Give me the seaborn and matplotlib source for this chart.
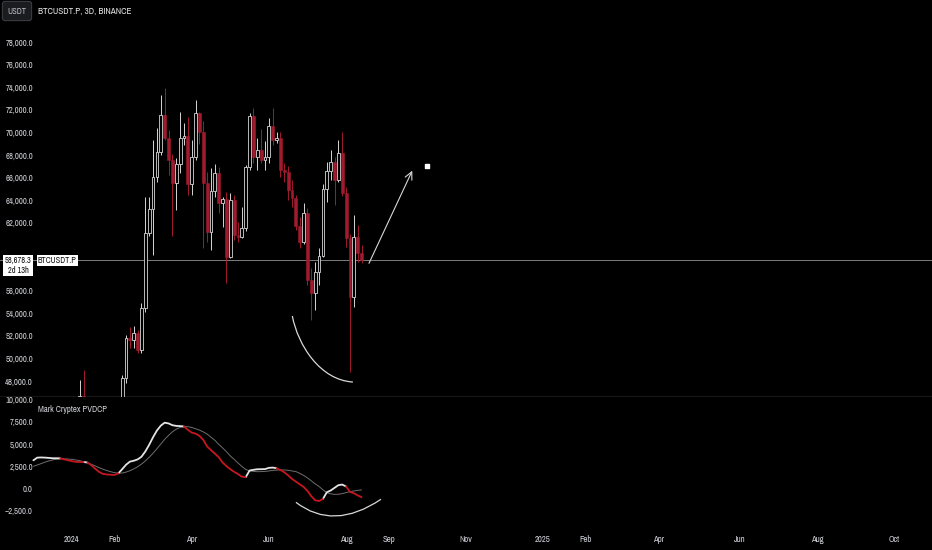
import numpy as np
import pandas as pd
import matplotlib
matplotlib.use("Agg")
import matplotlib.pyplot as plt
import matplotlib.transforms as mtransforms
import matplotlib.dates as mdates
from matplotlib.path import Path
from matplotlib.patches import PathPatch
from matplotlib import font_manager
import seaborn as sns

# ---- data --------------------------------------------------------------
symbol = "BTCUSDT.P"
header = "BTCUSDT.P, 3D, BINANCE"
indicator_name = "Mark Cryptex PVDCP"
last_price = 58678.3
countdown = "2d 13h"

# 3D candles, first bar opens 2024-01-07
candle_start = "2024-01-07"
opens = [43900, 46650, 42850, 42500, 41300, 41550, 39900, 42100, 43300, 43000,
         42700, 45300, 48250, 51780, 51600, 52220, 50740, 54430, 61130, 63200,
         66080, 68300, 71540, 69500, 67600, 65500, 67200, 69500, 69700, 65400,
         67850, 71690, 70060, 65500, 61220, 64810, 66380, 63730, 64100, 59000,
         64020, 60920, 60770, 61520, 66970, 71480, 67850, 68440, 67600, 67850,
         70590, 69330, 69500, 66670, 66500, 64900, 64200, 61700, 60330, 62850,
         56950, 55770, 57680, 59100, 64990, 66580, 67400, 65790, 68150, 64610,
         60630, 55470, 60770, 59300]
highs = [48090, 48970, 43300, 43580, 42200, 41650, 42250, 43850, 43750, 43500,
         45600, 48530, 52070, 52800, 52900, 52500, 54870, 64300, 64250, 69330,
         70360, 73330, 73900, 70200, 68100, 67700, 71840, 70800, 71400, 69330,
         72870, 71840, 71000, 66500, 66820, 67200, 66900, 64310, 64760, 64610,
         64500, 62100, 63430, 67100, 71690, 72130, 69480, 70300, 69200, 71250,
         72130, 70060, 70000, 67260, 67000, 65800, 64500, 62500, 63730, 63300,
         58000, 58560, 59730, 65430, 67400, 68440, 67800, 69330, 70060, 65200,
         61000, 62690, 61810, 60000]
lows = [43200, 42500, 41700, 40600, 40300, 38550, 39500, 41800, 41900, 42250,
        42600, 45200, 47800, 50900, 50900, 50500, 50500, 54100, 60800, 59150,
        65640, 68000, 69300, 66200, 60800, 63130, 66390, 68880, 64470, 64470,
        67560, 69000, 59740, 60320, 59590, 64310, 62850, 61660, 56650, 58850,
        60470, 60330, 60650, 61300, 66700, 67260, 66670, 67300, 66670, 67260,
        68880, 69030, 66080, 65640, 64020, 63400, 61370, 59740, 60100, 56500,
        53400, 54280, 56500, 59000, 63800, 65800, 63570, 65600, 64400, 59900,
        48820, 54580, 58500, 58400]
closes = [46650, 42850, 42500, 41300, 41550, 39900, 42100, 43300, 43000, 42700,
          45300, 48250, 51780, 51600, 52220, 50740, 54430, 61130, 63200, 66080,
          68300, 71540, 69500, 67600, 65500, 67200, 69500, 69700, 65400, 67850,
          71690, 70060, 65500, 61220, 64810, 66380, 63730, 64100, 59000, 64020,
          60920, 60770, 61520, 66970, 71480, 67850, 68440, 67600, 67850, 70590,
          69330, 69500, 66670, 66500, 64900, 64200, 61700, 60330, 62850, 56950,
          55770, 57680, 59100, 64990, 66580, 67400, 65790, 68150, 64610, 60630,
          55470, 60770, 59300, 58678.3]

# PVDCP indicator, one value per 3D bar from 2023-12-02
ind_start = "2023-12-02"
pv_line = [3150, 3450, 3470, 3450, 3420, 3380, 3380, 3370, 3250, 3150,
           3050, 2980, 2950, 2960, 2900, 2600, 2200, 1850, 1620, 1560,
           1520, 1500, 1680, 2150, 2650, 3000, 3100, 3250, 3550, 4150,
           4900, 5750, 6500, 7050, 7380, 7300, 7100, 7020, 7000, 6950,
           6580, 6270, 6150, 5900, 5450, 4700, 4300, 3900, 3500, 2900,
           2500, 2150, 1850, 1600, 1300, 1250, 2000, 2080, 2140, 2150,
           2160, 2300, 2330, 2250, 2050, 1800, 1450, 1050, 750, 450,
           150, -300, -900, -1350, -1430, -1200, -450, -250, 50, 350,
           420, 200, -400, -550, -800, -1000]
signal_line = [2480, 2620, 2780, 2940, 3080, 3200, 3270, 3310, 3310, 3290,
               3250, 3190, 3110, 3000, 2860, 2700, 2520, 2330, 2150, 2000,
               1870, 1760, 1700, 1720, 1820, 1980, 2180, 2420, 2720, 3080,
               3500, 3950, 4450, 4980, 5500, 5950, 6350, 6650, 6850, 6940,
               6930, 6850, 6700, 6550, 6350, 6100, 5750, 5400, 4950, 4550,
               4120, 3650, 3250, 2850, 2450, 2120, 1960, 1900, 1870, 1880,
               1900, 1950, 2010, 2050, 2070, 2060, 2030, 1950, 1880, 1680,
               1450, 1170, 835, 500, 200, -170, -500, -620, -680, -670,
               -600, -480, -380, -300, -230, -190]

price_ticks = [48000, 50000, 52000, 54000, 56000, 58000, 60000, 62000, 64000,
               66000, 68000, 70000, 72000, 74000, 76000, 78000]
ind_ticks = [-2500, 0, 2500, 5000, 7500, 10000]
time_tick_dates = ["2024-01-01", "2024-02-03", "2024-04-03", "2024-06-02",
                   "2024-08-01", "2024-09-03", "2024-11-02", "2025-01-01",
                   "2025-02-03", "2025-04-01", "2025-06-03", "2025-08-02",
                   "2025-10-01"]
time_tick_labels = ["2024", "Feb", "Apr", "Jun", "Aug", "Sep", "Nov", "2025",
                    "Feb", "Apr", "Jun", "Aug", "Oct"]

# hand drawn annotations (date, value)
arc_main = [("2024-06-20 05:00", 53750), ("2024-06-24 14:00", 51180),
            ("2024-07-11 17:00", 48080), ("2024-08-06 07:00", 47910)]
arc_ind = [("2024-06-23 00:00", -1575), ("2024-07-22 05:00", -4826),
           ("2024-08-28 02:00", -1238)]
arrow_from = ("2024-08-18 19:00", 58416)
arrow_to = ("2024-09-21 10:00", 66611)
dot_point = ("2024-10-03 02:00", 67026)

# ---- style ----------------------------------------------------------------
sns.set_theme(style="dark", rc={"axes.facecolor": "black",
                                "figure.facecolor": "black",
                                "axes.grid": False})

# the screenshot text is narrow, use a condensed face when there is one
narrow, stretch = None, "normal"
for f in font_manager.fontManager.ttflist:
    if "Narrow" in f.name or "Condensed" in f.name:
        narrow = f.name
        break
if narrow is None:
    for f in font_manager.fontManager.ttflist:
        if str(f.stretch) in ("condensed", "semi-condensed"):
            narrow, stretch = f.name, f.stretch
            break
if narrow:
    plt.rcParams["font.family"] = [narrow, "DejaVu Sans"]
    plt.rcParams["font.stretch"] = stretch
    FS = 6.3
else:
    plt.rcParams["font.family"] = ["Liberation Sans", "DejaVu Sans"]
    FS = 5.5

TXT = "#d0d2d8"
UP = "#d6d6d6"
DOWN = "#a01b2e"
PV_UP = "#e4e4e4"
PV_DOWN = "#c8161f"

W, H = 932, 550
PT = 72 / 100  # points per pixel
fig = plt.figure(figsize=(W / 100, H / 100), dpi=100)
ax = fig.add_axes([0, (H - 397) / H, 1, 397 / H])
ax2 = fig.add_axes([0, (H - 527) / H, 1, 130 / H], sharex=ax)

candles = pd.DataFrame({"date": pd.date_range(candle_start, periods=len(opens), freq="3D"),
                        "open": opens, "high": highs, "low": lows, "close": closes})
candles["up"] = candles["close"] >= candles["open"]

# wicks
ax.vlines(candles["date"], candles["low"], candles["high"],
          colors=np.where(candles["up"], UP, DOWN), lw=0.7, zorder=2)
# bodies
up = candles[candles["up"]]
dn = candles[~candles["up"]]
ax.bar(up["date"], (up["close"] - up["open"]).clip(lower=150), bottom=up["open"],
       width=2.2, facecolor="black", edgecolor=UP, lw=0.6, zorder=3)
ax.bar(dn["date"], dn["open"] - dn["close"], bottom=dn["close"],
       width=2.2, facecolor=DOWN, edgecolor=DOWN, lw=0.4, zorder=3)

ax.axhline(last_price, color="#7d7d7d", lw=0.7, zorder=1)

# annotations on the price pane
to_num = lambda d: mdates.date2num(pd.Timestamp(d))
verts = [(to_num(d), v) for d, v in arc_main]
ax.add_patch(PathPatch(Path(verts, [Path.MOVETO, Path.CURVE4, Path.CURVE4, Path.CURVE4]),
                       fill=False, edgecolor="#d8d8d8", lw=0.9, zorder=4))
ax.annotate("", xy=(to_num(arrow_to[0]), arrow_to[1]),
            xytext=(to_num(arrow_from[0]), arrow_from[1]),
            arrowprops=dict(arrowstyle="->,head_length=0.45,head_width=0.22",
                            color="#d8d8d8", lw=0.8, shrinkA=0, shrinkB=0))
ax.scatter([to_num(dot_point[0])], [dot_point[1]], s=5, marker="s", color="white",
           zorder=5)

# price pane axis, labels sit inside the plot, right edge at 33 px;
# the tick hidden under the last price box gets no label
ax.set_ylim(46584, 81717)
ax.set_yticks(price_ticks)
ax.set_yticklabels(["" if abs(v - last_price) < 1500 else f"{v:,.1f}"
                    for v in price_ticks])
ax.tick_params(axis="y", pad=-33 * PT, length=0, labelsize=FS, labelcolor=TXT)
ax.tick_params(axis="x", bottom=False, labelbottom=False)
for s in ["top", "left", "right"]:
    ax.spines[s].set_visible(False)
ax.spines["bottom"].set_color("#bdbdbd")
ax.spines["bottom"].set_linewidth(0.9)
ax.set_xlabel("")
ax.set_ylabel("")

blend = mtransforms.blended_transform_factory(ax.transAxes, ax.transData)
ax.annotate(f"{last_price:,.1f}\n{countdown}", xy=(0, last_price), xycoords=blend,
            xytext=(18, 4), textcoords="offset pixels", ha="center", va="top",
            fontsize=FS - 0.3, color="#111111", linespacing=1.1, zorder=10,
            multialignment="center",
            bbox=dict(boxstyle="square,pad=0.15", fc="white", ec="none"))
ax.annotate(symbol, xy=(0, last_price), xycoords=blend, xytext=(38, 0),
            textcoords="offset pixels", ha="left", va="center", fontsize=FS - 0.3,
            color="#111111", zorder=10,
            bbox=dict(boxstyle="square,pad=0.15", fc="white", ec="none"))

# ---- indicator pane -------------------------------------------------------
ind = pd.DataFrame({"date": pd.date_range(ind_start, periods=len(pv_line), freq="3D"),
                    "pv": pv_line, "signal": signal_line})
above = (ind["pv"] >= ind["signal"]).to_numpy()
rows = []
run = 0
for i in range(len(ind) - 1):
    state = "up" if above[i + 1] else "down"
    if i > 0 and state != ("up" if above[i] else "down"):
        run += 1
    for j in (i, i + 1):
        rows.append({"date": ind["date"][j], "value": ind["pv"][j],
                     "state": state, "run": run})
pv_df = pd.DataFrame(rows)

sns.lineplot(data=ind, x="date", y="signal", color="#6e6e6e", lw=0.7, ax=ax2)
sns.lineplot(data=pv_df, x="date", y="value", hue="state", units="run",
             estimator=None, sort=False, palette={"up": PV_UP, "down": PV_DOWN},
             lw=1.3, legend=False, ax=ax2)

verts = [(to_num(d), v) for d, v in arc_ind]
ax2.add_patch(PathPatch(Path(verts, [Path.MOVETO, Path.CURVE3, Path.CURVE3]),
                        fill=False, edgecolor="#d8d8d8", lw=0.9, zorder=4))

ax2.set_ylim(-4354, 10271)
ax2.set_yticks(ind_ticks)
ax2.set_yticklabels([f"{v:,.1f}".replace("-", "\u2212") for v in ind_ticks])
ax2.tick_params(axis="y", pad=-33 * PT, length=0, labelsize=FS, labelcolor=TXT)
for lab in ax2.get_yticklabels():
    lab.set_clip_box(ax2.bbox)
    lab.set_clip_on(True)
ax2.set_xticks([mdates.date2num(pd.Timestamp(d)) for d in time_tick_dates])
ax2.set_xticklabels(time_tick_labels)
ax2.tick_params(axis="x", pad=6, length=0, labelsize=FS, labelcolor=TXT)
for s in ax2.spines.values():
    s.set_visible(False)
ax2.set_xlabel("")
ax2.set_ylabel("")
ax2.text(38 / W, 1 - 12 / 130, indicator_name, transform=ax2.transAxes,
         ha="left", va="center", fontsize=FS, color=TXT)

day0 = pd.Timestamp("2024-01-01")
ax.set_xlim(mdates.date2num(day0 - pd.Timedelta(days=55.95)),
            mdates.date2num(day0 + pd.Timedelta(days=668.3)))

# ---- header ---------------------------------------------------------------
fig.text(38 / W, 1 - 11 / H, header, ha="left", va="center", fontsize=FS + 0.3,
         color="#e6e6e6")
fig.text(17 / W, 1 - 11 / H, "USDT", ha="center", va="center", fontsize=FS - 0.2,
         color="#b9bcc4",
         bbox=dict(boxstyle="round,pad=0.6,rounding_size=0.3", fc="#1b1c20",
                   ec="#3a3c42", lw=0.8))

fig.savefig("out.png", dpi=100, facecolor="black")
